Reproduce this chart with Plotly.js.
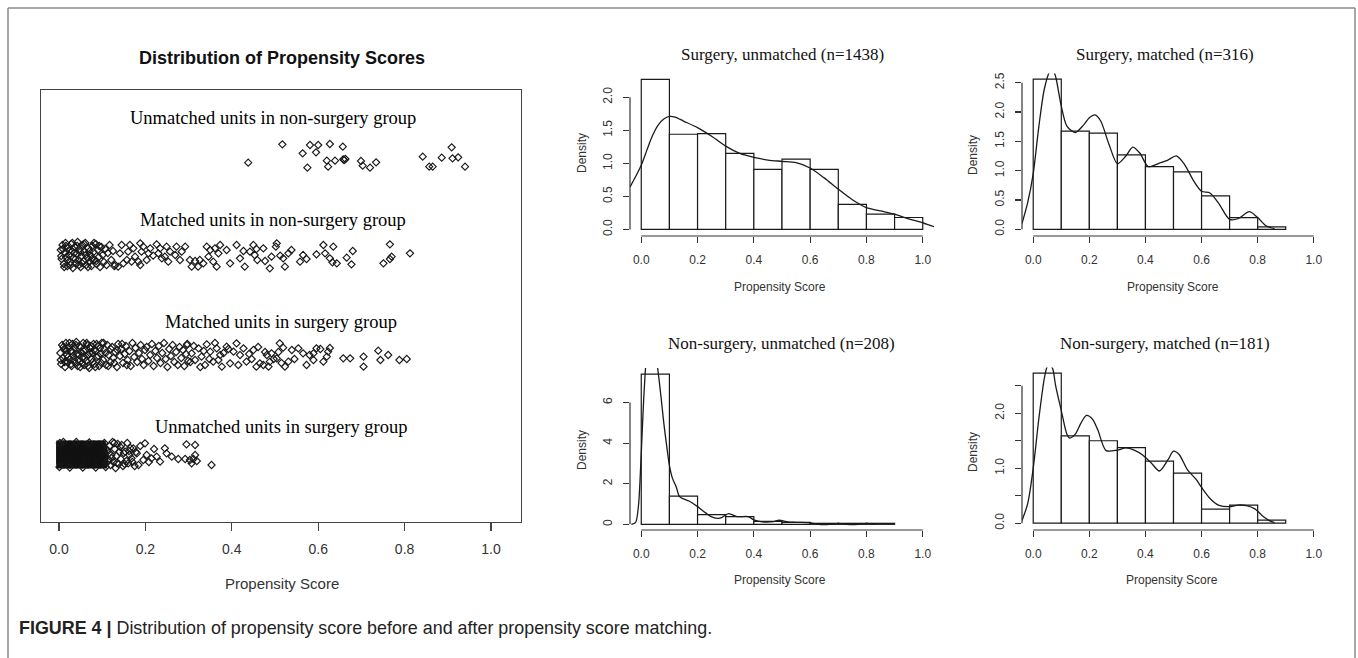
<!DOCTYPE html>
<html>
<head>
<meta charset="utf-8">
<script src="https://cdn.plot.ly/plotly-3.0.1.min.js"></script>
<style>html,body{margin:0;padding:0;background:#fff;}#chart{width:1358px;height:658px;}</style>
</head>
<body>
<div id="chart"></div>
<script>
// ---------------- DATA ----------------
const xTickVals = [0, 0.2, 0.4, 0.6, 0.8, 1.0];
const xTickText = ["0.0", "0.2", "0.4", "0.6", "0.8", "1.0"];
const binStarts = [0, 0.1, 0.2, 0.3, 0.4, 0.5, 0.6, 0.7, 0.8, 0.9];
const binWidth = 0.1;

const groupLabels = ["Unmatched units in non-surgery group", "Matched units in non-surgery group",
                     "Matched units in surgery group", "Unmatched units in surgery group"];

// jitter plot points [propensity score, jittered row position]
const unmatchedNonSurgery = [[0.438,3.923],[0.517,4.107],[0.564,4.017],[0.581,4.10],[0.600,4.10],[0.595,4.027],[0.627,4.11],[0.657,4.083],[0.575,3.873],[0.620,3.943],[0.623,3.883],[0.639,3.943],[0.658,3.957],[0.663,3.96],[0.660,3.95],[0.699,3.94],[0.703,3.893],[0.720,3.873],[0.734,3.927],[0.842,3.983],[0.857,3.883],[0.865,3.883],[0.886,3.973],[0.909,4.077],[0.911,3.967],[0.924,3.977],[0.940,3.883]];

const matchedNonSurgery = [[0.004,3.05],[0.006,2.96],[0.008,3.10],[0.011,2.91],[0.013,3.02],[0.015,3.12],[0.017,2.98],[0.019,2.89],[0.021,3.07],[0.023,3.00],[0.026,2.93],[0.028,3.11],[0.030,3.04],[0.032,2.87],[0.034,2.97],[0.036,3.08],[0.039,2.92],[0.041,3.01],[0.043,3.13],[0.045,2.95],[0.047,3.06],[0.050,2.88],[0.052,2.99],[0.054,3.10],[0.057,2.94],[0.059,3.03],[0.061,3.12],[0.063,2.90],[0.066,2.97],[0.068,3.07],[0.070,2.93],[0.073,3.00],[0.075,2.89],[0.077,3.09],[0.080,3.03],[0.082,2.95],[0.085,3.11],[0.087,2.91],[0.090,3.05],[0.092,2.98],[0.095,2.88],[0.098,3.08],[0.101,3.00],[0.104,2.93],[0.107,3.06],[0.110,2.90],[0.113,3.02],[0.117,3.10],[0.121,2.95],[0.125,3.04],[0.128,2.89],
[0.005,2.99],[0.009,3.06],[0.012,2.88],[0.016,3.09],[0.020,2.95],[0.024,3.04],[0.027,2.90],[0.031,3.12],[0.035,3.02],[0.038,2.96],[0.042,3.09],[0.046,2.90],[0.049,3.03],[0.053,2.92],[0.058,3.11],[0.062,3.00],[0.067,2.88],[0.071,3.04],[0.076,2.96],[0.081,3.12],[0.086,2.94],[0.093,3.09],
[0.130,2.90],[0.137,2.883],[0.141,3.017],[0.145,3.10],[0.149,2.917],[0.157,2.95],[0.160,3.033],[0.164,3.10],[0.168,2.933],[0.172,3.067],[0.176,2.983],[0.184,2.933],[0.188,2.90],[0.188,3.117],[0.191,3.033],[0.195,3.083],[0.203,2.95],[0.207,3.017],[0.211,3.067],[0.218,2.993],[0.226,3.107],[0.230,3.017],[0.234,3.067],[0.238,2.967],[0.245,2.983],[0.249,3.083],[0.253,2.933],[0.257,3.033],[0.269,3.0],[0.272,3.083],[0.280,2.95],[0.284,3.033],[0.292,3.083],[0.303,2.95],[0.307,2.883],[0.315,2.94],[0.322,2.883],[0.326,2.95],[0.334,2.917],[0.342,3.083],[0.346,2.983],[0.350,3.05],[0.357,2.933],[0.361,3.067],[0.365,2.883],[0.369,3.017],[0.373,3.10],[0.388,3.05],[0.396,2.917],[0.411,3.10],[0.419,2.967],[0.427,3.04],[0.430,2.883],[0.442,3.033],[0.450,3.10],[0.453,3.0],[0.457,3.06],[0.459,2.95],[0.473,3.067],[0.477,2.94],[0.488,2.867],[0.492,2.983],[0.502,3.083],[0.504,3.117],[0.512,2.993],[0.519,2.967],[0.523,2.883],[0.531,3.017],[0.538,3.05],[0.558,2.933],[0.565,3.0],[0.573,2.96],[0.596,3.007],[0.612,3.10],[0.616,3.017],[0.627,2.967],[0.633,2.927],[0.635,3.083],[0.643,2.917],[0.666,2.973],[0.677,2.907],[0.680,3.04],[0.751,2.917],[0.766,2.96],[0.766,3.107],[0.770,2.983],[0.8125,3.017]];

const matchedSurgery = [[0.003,2.02],[0.005,1.91],[0.007,2.10],[0.009,1.97],[0.012,2.06],[0.014,1.88],[0.016,2.12],[0.018,2.00],[0.020,1.93],[0.022,2.08],[0.025,1.96],[0.027,2.04],[0.029,1.89],[0.031,2.11],[0.033,1.99],[0.036,2.07],[0.038,1.92],[0.040,2.13],[0.042,2.01],[0.045,1.95],[0.047,2.09],[0.049,1.88],[0.051,2.03],[0.054,1.97],[0.056,2.12],[0.058,1.90],[0.061,2.05],[0.063,1.94],[0.065,2.10],[0.068,2.00],[0.070,1.87],[0.072,2.07],[0.075,1.96],[0.077,2.02],[0.080,2.11],[0.082,1.91],[0.085,2.04],[0.088,1.98],[0.090,2.09],[0.093,1.89],[0.096,2.01],[0.099,2.12],
[0.004,1.95],[0.010,2.08],[0.013,1.93],[0.017,2.05],[0.021,1.98],[0.024,2.12],[0.028,1.91],[0.032,2.03],[0.035,1.95],[0.039,2.10],[0.043,1.89],[0.046,2.00],[0.050,2.08],[0.053,1.92],[0.057,2.04],[0.060,1.97],[0.064,2.12],[0.067,1.89],[0.071,2.02],[0.074,2.09],[0.078,1.93],[0.081,2.05],[0.084,1.88],[0.087,2.11],[0.091,1.99],[0.095,2.07],[0.098,1.92],[0.103,2.12],[0.108,2.02],[0.114,1.89],[0.120,2.06],[0.128,1.92],[0.135,2.05],[0.146,2.11],[0.157,1.90],
[0.102,1.95],[0.105,2.06],[0.109,1.90],[0.112,2.10],[0.115,2.00],[0.119,1.93],[0.123,2.08],[0.126,1.97],[0.130,2.03],[0.134,1.88],[0.137,2.11],[0.141,1.99],[0.144,2.06],[0.148,1.92],[0.152,2.01],[0.155,2.09],[0.159,1.95],[0.163,2.04],[0.166,1.89],[0.170,2.12],[0.174,1.98],[0.177,2.07],[0.181,1.93],[0.185,2.02],[0.189,2.10],[0.192,1.96],[0.196,1.90],[0.199,2.05],
[0.203,2.08],[0.207,1.94],[0.211,2.00],[0.215,2.11],[0.219,1.89],[0.223,2.04],[0.227,1.97],[0.231,2.09],[0.235,1.92],[0.239,2.02],[0.243,2.12],[0.247,1.96],[0.251,1.88],[0.255,2.06],[0.259,1.99],[0.263,2.10],[0.267,1.93],[0.271,2.03],[0.275,1.90],[0.279,2.08],[0.283,1.97],[0.287,2.05],[0.290,1.89],[0.294,2.01],[0.297,2.11],[0.299,1.94],
[0.296,2.10],[0.307,2.017],[0.315,1.95],[0.323,2.067],[0.330,1.983],[0.338,1.90],[0.342,2.107],[0.350,2.033],[0.357,1.933],[0.365,2.067],[0.373,2.0],[0.377,1.883],[0.388,2.083],[0.396,1.917],[0.304,1.93],[0.312,2.09],[0.327,1.88],[0.335,2.04],[0.348,1.96],[0.361,2.12],[0.369,1.95],[0.381,2.02],[0.392,2.06],
[0.404,2.033],[0.411,2.117],[0.419,2.0],[0.427,2.067],[0.434,1.933],[0.450,2.05],[0.457,1.883],[0.465,1.917],[0.473,1.90],[0.481,2.0],[0.485,1.883],[0.488,1.933],[0.492,2.017],[0.415,1.90],[0.440,2.01],[0.446,1.96],[0.461,2.08],[0.477,2.03],[0.497,1.96],
[0.504,1.967],[0.511,2.117],[0.519,2.073],[0.523,1.883],[0.531,1.933],[0.539,2.05],[0.554,2.067],[0.565,2.017],[0.573,1.90],[0.589,2.017],[0.589,1.95],[0.596,2.067],[0.508,2.03],[0.515,1.92],[0.545,1.96],[0.580,2.00],
[0.612,1.933],[0.620,1.983],[0.623,2.033],[0.658,1.967],[0.674,1.967],[0.705,1.983],[0.705,1.883],[0.739,2.043],[0.744,1.95],[0.762,2.0],[0.788,1.95],[0.805,1.96],[0.605,2.06],[0.627,2.07]];

// solid core of the unmatched surgery row (heavily overlapping points)
const unmatchedSurgeryCore = [[0.004,0.91],[0.018,0.91],[0.032,0.91],[0.046,0.91],[0.060,0.91],[0.074,0.91],[0.088,0.91],[0.101,0.91],
[0.004,0.95],[0.018,0.95],[0.032,0.95],[0.046,0.95],[0.060,0.95],[0.074,0.95],[0.088,0.95],[0.103,0.95],
[0.004,0.99],[0.018,0.99],[0.032,0.99],[0.046,0.99],[0.060,0.99],[0.074,0.99],[0.088,0.99],[0.104,0.99],
[0.004,1.03],[0.018,1.03],[0.032,1.03],[0.046,1.03],[0.060,1.03],[0.074,1.03],[0.088,1.03],[0.102,1.03],
[0.004,1.07],[0.018,1.07],[0.032,1.07],[0.046,1.07],[0.060,1.07],[0.074,1.07],[0.088,1.07],[0.100,1.07],
[0.004,1.10],[0.018,1.10],[0.032,1.10],[0.046,1.10],[0.060,1.10],[0.074,1.10],[0.088,1.10],[0.098,1.10]];

const unmatchedSurgery = [[0.001,0.88],[0.002,1.12],[0.010,1.13],[0.025,0.875],[0.040,1.13],[0.055,0.875],[0.070,1.125],[0.085,0.875],
[0.105,1.12],[0.108,0.88],[0.112,1.05],[0.114,0.95],[0.117,1.09],[0.119,0.90],[0.121,1.00],[0.124,1.13],[0.126,0.93],[0.129,1.06],[0.131,0.87],[0.133,0.99],[0.136,1.11],[0.138,0.91],[0.140,1.03],[0.143,0.96],[0.145,1.10],[0.148,0.89],[0.150,1.02],[0.153,1.033],[0.156,0.94],[0.158,1.12],[0.160,0.917],[0.163,1.00],[0.165,1.07],[0.168,0.967],[0.172,1.067],[0.175,0.89],[0.178,1.03],[0.180,1.017],[0.184,0.90],[0.188,1.09],[0.195,0.95],[0.199,1.117],[0.203,1.0],[0.208,0.93],[0.214,0.967],[0.220,1.06],[0.226,0.983],[0.234,0.933],[0.245,1.067],[0.249,1.017],[0.261,0.983],[0.276,0.96],[0.292,0.96],[0.295,1.107],[0.303,0.95],[0.307,0.917],[0.311,0.96],[0.315,1.0],[0.315,1.10],[0.319,0.94],[0.353,0.90],
[0.110,0.92],[0.116,1.02],[0.122,0.97],[0.128,1.12],[0.134,0.92],[0.142,1.08],[0.152,0.91],[0.162,1.04],[0.170,0.93]];

// histogram densities (bins of width 0.1 from 0)
const surgUnmatchedDensity = [2.27, 1.44, 1.45, 1.15, 0.91, 1.065, 0.91, 0.38, 0.23, 0.18];
const surgMatchedDensity = [2.56, 1.675, 1.64, 1.27, 1.07, 0.98, 0.57, 0.20, 0.04];
const nonSurgUnmatchedDensity = [7.40, 1.39, 0.48, 0.38, 0.14, 0.10, 0.05, 0.05, 0.05];
const nonSurgMatchedDensity = [2.73, 1.59, 1.50, 1.376, 1.13, 0.91, 0.255, 0.33, 0.055];

// kernel density curves
const surgUnmatchedKdeX = [-0.04,-0.02,0.0,0.02,0.04,0.06,0.08,0.10,0.12,0.15,0.2,0.25,0.3,0.35,0.4,0.45,0.5,0.55,0.6,0.65,0.7,0.75,0.8,0.85,0.9,0.95,1.0,1.04];
const surgUnmatchedKdeY = [0.64,0.80,0.97,1.20,1.42,1.58,1.67,1.71,1.70,1.64,1.54,1.41,1.26,1.15,1.09,1.05,1.03,1.01,0.93,0.78,0.61,0.45,0.33,0.28,0.23,0.16,0.10,0.04];
const surgMatchedKdeX = [-0.04,-0.02,0,0.02,0.04,0.06,0.07,0.08,0.1,0.12,0.15,0.18,0.2,0.22,0.24,0.27,0.3,0.33,0.355,0.38,0.41,0.45,0.48,0.51,0.54,0.57,0.6,0.63,0.66,0.7,0.73,0.77,0.8,0.83,0.86];
const surgMatchedKdeY = [0.10,0.45,0.95,1.75,2.40,2.70,2.72,2.60,2.10,1.76,1.65,1.78,1.90,1.95,1.85,1.45,1.12,1.25,1.40,1.30,1.07,1.13,1.18,1.25,1.10,0.84,0.65,0.62,0.45,0.17,0.18,0.30,0.20,0.06,0.01];
const nonSurgUnmatchedKdeX = [-0.035,-0.02,-0.01,0.0,0.01,0.02,0.035,0.05,0.06,0.07,0.08,0.09,0.1,0.11,0.124,0.136,0.15,0.17,0.2,0.23,0.25,0.28,0.31,0.34,0.38,0.4,0.43,0.47,0.49,0.52,0.55,0.6,0.63,0.67,0.7,0.73,0.77,0.8,0.83];
const nonSurgUnmatchedKdeY = [0,0.1,0.9,3.5,6.5,8.3,8.9,8.4,7.5,6.3,5.0,3.9,2.9,2.3,1.85,1.36,1.25,1.15,0.87,0.55,0.37,0.30,0.53,0.38,0.38,0.22,0.12,0.13,0.20,0.12,0.10,0.07,0.0,0.0,0.05,0.0,0.0,0.05,0.0];
const nonSurgMatchedKdeX = [-0.04,-0.02,0,0.02,0.04,0.05,0.06,0.07,0.08,0.1,0.12,0.13,0.15,0.17,0.19,0.21,0.23,0.26,0.3,0.33,0.36,0.39,0.42,0.45,0.48,0.5,0.52,0.55,0.58,0.6,0.63,0.66,0.7,0.73,0.76,0.79,0.82,0.84,0.86];
const nonSurgMatchedKdeY = [0.05,0.35,1.0,1.9,2.65,2.85,2.9,2.8,2.5,2.05,1.62,1.55,1.62,1.82,1.96,1.90,1.70,1.32,1.33,1.37,1.33,1.24,1.10,0.95,1.15,1.31,1.25,0.97,0.80,0.65,0.45,0.33,0.30,0.33,0.32,0.26,0.12,0.05,0.01];

const panelTitles = ["Surgery, unmatched (n=1438)", "Surgery, matched (n=316)",
                     "Non-surgery, unmatched (n=208)", "Non-surgery, matched (n=181)"];

// ---------------- LAYOUT HELPERS ----------------
const W = 1358, H = 658;
const px = x => x / W;
const py = y => 1 - y / H;
const INK = '#1a1a1a';
const GREY = '#333';

const traces = [];
function pts(arr, opts) {
  traces.push(Object.assign({
    type: 'scatter', mode: 'markers', xaxis: 'x', yaxis: 'y',
    x: arr.map(p => p[0]), y: arr.map(p => p[1]), hoverinfo: 'skip',
    marker: {symbol: 'diamond-open', size: 5.5, color: INK, line: {width: 1.15, color: INK}}
  }, opts || {}));
}
pts(unmatchedNonSurgery);
pts(matchedNonSurgery);
pts(matchedSurgery);
pts(unmatchedSurgeryCore, {marker: {symbol: 'square', size: 9, color: '#111', line: {width: 0}}});
pts(unmatchedSurgery);

// right panels config
const panels = [
  {dens: surgUnmatchedDensity, kx: surgUnmatchedKdeX, ky: surgUnmatchedKdeY,
   xd: [630, 934], yd: [236, 73.5], yr: [-0.10, 2.36], yt: [0, 0.5, 1, 1.5, 2], ytt: ['0.0','0.5','1.0','1.5','2.0'],
   title: [783, 54], dens_lab: [582, 153], ps_lab: [780, 287]},
  {dens: surgMatchedDensity, kx: surgMatchedKdeX, ky: surgMatchedKdeY,
   xd: [1022, 1325], yd: [236, 73.5], yr: [-0.114, 2.656], yt: [0, 0.5, 1, 1.5, 2, 2.5], ytt: ['0.0','0.5','1.0','1.5','2.0','2.5'],
   title: [1165, 54], dens_lab: [973, 155], ps_lab: [1173, 287]},
  {dens: nonSurgUnmatchedDensity, kx: nonSurgUnmatchedKdeX, ky: nonSurgUnmatchedKdeY,
   xd: [630, 934], yd: [530, 368], yr: [-0.28, 7.70], yt: [0, 2, 4, 6], ytt: ['0','2','4','6'],
   title: [782, 343], dens_lab: [582, 450], ps_lab: [780, 580]},
  {dens: nonSurgMatchedDensity, kx: nonSurgMatchedKdeX, ky: nonSurgMatchedKdeY,
   xd: [1022, 1325], yd: [530, 367.5], yr: [-0.124, 2.833], yt: [0, 0.5, 1, 1.5, 2, 2.5], ytt: ['0.0','','1.0','','2.0',''],
   title: [1165, 343], dens_lab: [973, 452], ps_lab: [1172, 580]}
];

const layout = {
  width: W, height: H, margin: {l: 0, r: 0, t: 0, b: 0},
  paper_bgcolor: '#fff', plot_bgcolor: 'rgba(0,0,0,0)', showlegend: false,
  font: {family: 'Liberation Sans, Arial, sans-serif', color: GREY},
  xaxis: {domain: [px(41), px(521)], range: [-0.0417, 1.0695], anchor: 'y',
          tickvals: xTickVals, ticktext: xTickText, ticks: 'outside', ticklen: 8, tickwidth: 1.3, tickcolor: '#444',
          showline: true, mirror: true, linecolor: '#444', linewidth: 1.3, showgrid: false, zeroline: false,
          tickfont: {size: 14, color: GREY}, ticklabelstandoff: 6, fixedrange: true},
  yaxis: {domain: [py(522), py(90)], range: [0.33, 4.65], anchor: 'x',
          showticklabels: false, ticks: '', showline: true, mirror: true, linecolor: '#444', linewidth: 1.3,
          showgrid: false, zeroline: false, fixedrange: true},
  shapes: [], annotations: []
};

const serif = 'Liberation Serif, Times New Roman, serif';
const groupLabelPos = [[0.495, 4.37], [0.495, 3.35], [0.514, 2.33], [0.514, 1.28]];
groupLabels.forEach((t, i) => layout.annotations.push({
  text: t, xref: 'x', yref: 'y', x: groupLabelPos[i][0], y: groupLabelPos[i][1],
  showarrow: false, xanchor: 'center', yanchor: 'middle', font: {family: serif, size: 18.5, color: '#000'}
}));
layout.annotations.push({text: '<b>Distribution of Propensity Scores</b>', xref: 'paper', yref: 'paper',
  x: px(282), y: py(58), showarrow: false, xanchor: 'center', yanchor: 'middle', font: {size: 18, color: '#111'}});
layout.annotations.push({text: 'Propensity Score', xref: 'paper', yref: 'paper',
  x: px(282), y: py(583), showarrow: false, xanchor: 'center', yanchor: 'middle', font: {size: 15, color: GREY}});

panels.forEach((p, i) => {
  const n = i + 2, xa = 'x' + n, ya = 'y' + n;
  layout['xaxis' + n] = {domain: [px(p.xd[0]), px(p.xd[1])], range: [-0.04, 1.04], anchor: ya,
    tickvals: xTickVals, ticktext: xTickText, ticks: 'outside', ticklen: 6, tickwidth: 1.2, tickcolor: GREY,
    showline: false, showgrid: false, zeroline: false, tickfont: {size: 12, color: GREY}, ticklabelstandoff: 7, fixedrange: true};
  layout['yaxis' + n] = {domain: [py(p.yd[0]), py(p.yd[1])], range: p.yr, anchor: xa,
    tickvals: p.yt, ticktext: p.ytt, ticks: 'outside', ticklen: 6, tickwidth: 1.2, tickcolor: GREY, tickangle: -90,
    showline: false, showgrid: false, zeroline: false, tickfont: {size: 12, color: GREY}, ticklabelstandoff: 6, fixedrange: true};
  traces.push({type: 'bar', xaxis: xa, yaxis: ya, x: p.dens.map((d, j) => binStarts[j] + binWidth / 2), y: p.dens,
    width: binWidth, marker: {color: '#fff', line: {color: INK, width: 1.2}}, hoverinfo: 'skip'});
  traces.push({type: 'scatter', mode: 'lines', xaxis: xa, yaxis: ya, x: p.kx, y: p.ky,
    line: {color: INK, width: 1.3, shape: 'spline', smoothing: 0.8}, hoverinfo: 'skip'});
  layout.shapes.push({type: 'line', xref: xa, yref: ya + ' domain', x0: 0, x1: 1, y0: 0, y1: 0, line: {color: GREY, width: 1.2}});
  layout.shapes.push({type: 'line', xref: xa + ' domain', yref: ya, x0: 0, x1: 0, y0: 0, y1: p.yt[p.yt.length - 1], line: {color: GREY, width: 1.2}});
  layout.annotations.push({text: panelTitles[i], xref: 'paper', yref: 'paper', x: px(p.title[0]), y: py(p.title[1]),
    showarrow: false, xanchor: 'center', yanchor: 'middle', font: {family: serif, size: 17, color: '#111'}});
  layout.annotations.push({text: 'Density', xref: 'paper', yref: 'paper', x: px(p.dens_lab[0]), y: py(p.dens_lab[1]),
    showarrow: false, textangle: -90, xanchor: 'center', yanchor: 'middle', font: {size: 12, color: GREY}});
  layout.annotations.push({text: 'Propensity Score', xref: 'paper', yref: 'paper', x: px(p.ps_lab[0]), y: py(p.ps_lab[1]),
    showarrow: false, xanchor: 'center', yanchor: 'middle', font: {size: 12, color: GREY}});
});

// caption
layout.annotations.push({text: '<b>FIGURE 4 |</b> Distribution of propensity score before and after propensity score matching.',
  xref: 'paper', yref: 'paper', x: px(17), y: py(628), showarrow: false, xanchor: 'left', yanchor: 'middle',
  font: {size: 17.9, color: '#222'}});

// figure frame
const frame = {color: '#8a8a8a', width: 1.5};
layout.shapes.push({type: 'line', xref: 'paper', yref: 'paper', x0: px(8), x1: px(8), y0: 0, y1: py(8), line: frame});
layout.shapes.push({type: 'line', xref: 'paper', yref: 'paper', x0: px(8), x1: px(1355), y0: py(8), y1: py(8), line: frame});
layout.shapes.push({type: 'line', xref: 'paper', yref: 'paper', x0: px(1355), x1: px(1355), y0: 0, y1: py(8), line: frame});

Plotly.newPlot('chart', traces, layout, {staticPlot: true, displayModeBar: false});
</script>
</body>
</html>
